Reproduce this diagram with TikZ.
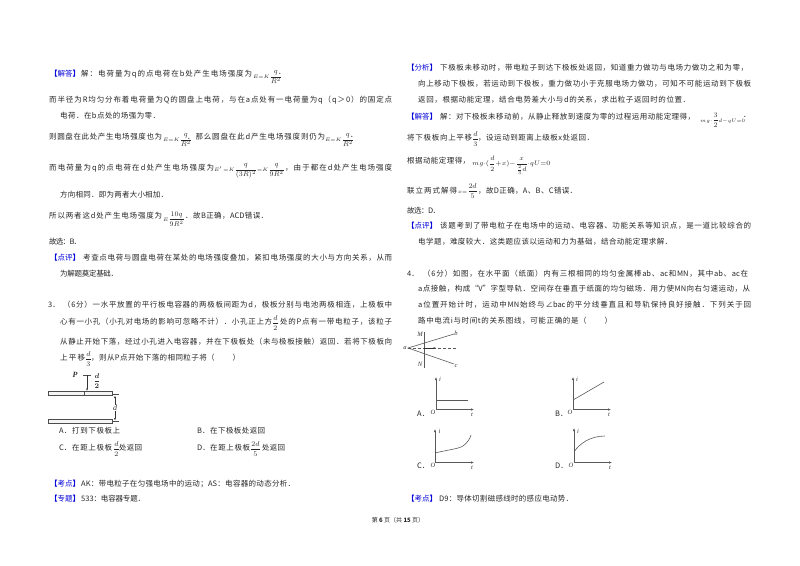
\documentclass[tikz,border=0pt]{standalone}
\usepackage{fix-cm}
\usepackage[no-math]{fontspec}
\usepackage{amsmath}
\setmainfont{Noto Sans CJK SC}
\newfontfamily\labfont{Liberation Serif}
\usetikzlibrary{arrows.meta, positioning, calc}

% even spacing of the Chinese characters inside a row
\XeTeXinterchartokenstate=1
\newXeTeXintercharclass\hanclass
\newcount\hanchar
\hanchar="3000
\loop\XeTeXcharclass\hanchar=\hanclass\ifnum\hanchar<"9FFF\advance\hanchar by 1 \repeat
\hanchar="FF00
\loop\XeTeXcharclass\hanchar=\hanclass\ifnum\hanchar<"FFEF\advance\hanchar by 1 \repeat
\XeTeXinterchartoks\hanclass\hanclass={\hskip 0pt plus 1fil minus 1fil\relax}
\XeTeXinterchartoks\hanclass 0={\hskip 0pt plus 1fil minus 1fil\relax}
\XeTeXinterchartoks 0\hanclass={\hskip 0pt plus 1fil minus 1fil\relax}
\newcommand{\fitrow}[2]{\hbox to #1pt{#2}}
\newcommand{\brk}[1]{\textbf{【}#1\textbf{】}}

\begin{document}
\begin{tikzpicture}[
  x=1pt, y=-1pt,
  row/.style     = {anchor=west, inner sep=0pt, text=black!85, font=\fontsize{7.5}{8}\selectfont},
  tag/.style     = {anchor=west, inner sep=0pt, text=blue!85!black, font=\fontsize{7.5}{8}\selectfont},
  formula/.style = {anchor=west, inner sep=0pt, text=black!85, font=\fontsize{7}{8}\selectfont},
  lab/.style     = {inner sep=0pt, text=black!80, font=\fontsize{6.5}{7}\labfont\itshape},
  axis/.style    = {line width=0.8pt, black!65, -{Latex[length=3pt,width=2.5pt]}},
  curve/.style   = {line width=0.6pt, black!65},
  plate/.style   = {draw=black!70, line width=0.5pt, fill=black!4, minimum height=4pt, inner sep=0pt},
  wire/.style    = {line width=0.5pt, black!70},
  arrow/.style   = {line width=0.5pt, black!80, -{Latex[length=2.5pt,width=2pt]}},
  darrow/.style  = {line width=0.5pt, black!80, {Latex[length=2.5pt,width=2pt]}-{Latex[length=2.5pt,width=2pt]}}
]
\useasboundingbox (0,0) rectangle (800,565);

%--------------------------------------------------
% left column: solution of question 2
%--------------------------------------------------
\node[tag] (tagA) at (50,74) {\fitrow{30}{\brk{解答}}};
\node[row] (a1) at (81,74) {\fitrow{171}{解：电荷量为q的点电荷在b处产生电场强度为}};
\node[formula] (a1f) at (253,77) {${\scriptstyle E{=}K}\dfrac{q}{R^2}$};
\node[row] (a1p) at (278,74) {．};
\node[row] (a2) at (49,100) {\fitrow{343}{而半径为R均匀分布着电荷量为Q的圆盘上电荷，与在a点处有一电荷量为q（q＞0）的固定点}};
\node[row] (a3) at (60,116) {\fitrow{100}{电荷．在b点处的场强为零．}};
\node[row] (a4) at (49,137) {\fitrow{113}{则圆盘在此处产生电场强度也为}};
\node[formula] (a4f) at (163,140) {${\scriptstyle E{=}K}\dfrac{q}{R^2}$};
\node[row] (a4b) at (187,137) {\fitrow{138}{．那么圆盘在此d产生电场强度则仍为}};
\node[formula] (a4g) at (325,140) {${\scriptstyle E{=}K}\dfrac{q}{R^2}$};
\node[row] (a4p) at (350,137) {．};
\node[row] (a5) at (49,168) {\fitrow{165}{而电荷量为q的点电荷在d处产生电场强度为}};
\node[formula] (a5f) at (214,171) {${\scriptstyle E'\,{=}K}\dfrac{q}{(3R)^2}{\scriptstyle {=}K}\dfrac{q}{9R^2}$};
\node[row] (a5b) at (285,168) {\fitrow{107}{，由于都在d处产生电场强度}};
\node[row] (a6) at (60,195) {\fitrow{108}{方向相同．即为两者大小相加．}};
\node[row] (a7) at (49,216) {\fitrow{113}{所以两者这d处产生电场强度为}};
\node[formula] (a7f) at (163,219) {${\scriptstyle E}\dfrac{10q}{9R^2}$};
\node[row] (a7b) at (185,216) {\fitrow{83}{．故B正确，ACD错误．}};
\node[row] (a8) at (49,242) {\fitrow{32}{故选：B．}};
\node[tag] (tagB) at (50,258) {\fitrow{30}{\brk{点评}}};
\node[row] (a9) at (83,258) {\fitrow{309}{考查点电荷与圆盘电荷在某处的电场强度叠加，紧扣电场强度的大小与方向关系，从而}};
\node[row] (a10) at (60,274) {\fitrow{58}{为解题奠定基础．}};

%--------------------------------------------------
% left column: question 3
%--------------------------------------------------
\node[row] (q3) at (48,305) {3．};
\node[row] (q3a) at (63,305) {\fitrow{329}{（6分）一水平放置的平行板电容器的两极板间距为d，极板分别与电池两极相连，上极板中}};
\node[row] (q3b) at (60,322) {\fitrow{212}{心有一小孔（小孔对电场的影响可忽略不计）．小孔正上方}};
\node[formula] (q3f) at (272,323) {$\dfrac{d}{2}$};
\node[row] (q3c) at (280,322) {\fitrow{112}{处的P点有一带电粒子，该粒子}};
\node[row] (q3d) at (60,342) {\fitrow{332}{从静止开始下落，经过小孔进入电容器，并在下极板处（未与极板接触）返回．若将下极板向}};
\node[row] (q3e) at (60,358) {\fitrow{25}{上平移}};
\node[formula] (q3g) at (85,359) {$\dfrac{d}{3}$};
\node[row] (q3h) at (91,358) {\fitrow{149}{，则从P点开始下落的相同粒子将（\hspace{18pt}）}};

% capacitor
\node[plate, anchor=west, minimum width=64pt] (top) at (48,393) {};
\node[plate, anchor=west, minimum width=64pt] (bot) at (48,421) {};
\coordinate (topEnd) at (119,394);
\coordinate (botEnd) at (119,421);
\draw[wire] (top.east |- topEnd) -- (topEnd);
\draw[wire] (bot.east |- botEnd) -- (botEnd);
\draw[wire] (84,391) -- (84,395);
\coordinate (pTick) at (87,375);
\draw[wire] ($(pTick)+(-4,0)$) -- ($(pTick)+(4,0)$);
\draw[arrow] (pTick) -- (87,391);
\draw[darrow] (115,395.5) -- (115,420.5);
\node[lab, font=\fontsize{8}{8}\labfont\itshape\bfseries] (P) at (75,375) {P};
\node[lab, font=\fontsize{7}{8}\selectfont] (halfD) at (97,381) {$\boldsymbol{\dfrac{d}{2}}$};
\node[lab, font=\fontsize{8}{8}\labfont\itshape, fill=white] (dist) at (115,408) {d};

% choices
\node[row] (ca) at (59,431) {A．};
\node[row] (cat) at (72,431) {\fitrow{48}{打到下极板上}};
\node[row] (cb) at (197,431) {B．};
\node[row] (cbt) at (210,431) {\fitrow{55}{在下极板处返回}};
\node[row] (cc) at (59,448) {C．};
\node[row] (cct) at (72,448) {\fitrow{40}{在距上极板}};
\node[formula] (ccf) at (113,449) {$\dfrac{d}{2}$};
\node[row] (ccu) at (119,448) {\fitrow{23}{处返回}};
\node[row] (cd) at (197,448) {D．};
\node[row] (cdt) at (210,448) {\fitrow{40}{在距上极板}};
\node[formula] (cdf) at (250,449) {$\dfrac{2d}{5}$};
\node[row] (cdu) at (262,448) {\fitrow{23}{处返回}};

\node[tag] (tagC) at (50,484) {\fitrow{30}{\brk{考点}}};
\node[row] (k1) at (81,484) {\fitrow{214}{AK：带电粒子在匀强电场中的运动；AS：电容器的动态分析．}};
\node[tag] (tagD) at (50,499) {\fitrow{30}{\brk{专题}}};
\node[row] (k2) at (81,499) {\fitrow{64}{533：电容器专题．}};

%--------------------------------------------------
% right column: solution of question 3
%--------------------------------------------------
\node[tag] (tagE) at (407,68) {\fitrow{30}{\brk{分析}}};
\node[row] (b1) at (440,68) {\fitrow{308}{下极板未移动时，带电粒子到达下极板处返回，知道重力做功与电场力做功之和为零，}};
\node[row] (b2) at (418,84) {\fitrow{333}{向上移动下极板，若运动到下极板，重力做功小于克服电场力做功，可知不可能运动到下极板}};
\node[row] (b3) at (418,100) {\fitrow{272}{返回，根据动能定理，结合电势差大小与d的关系，求出粒子返回时的位置．}};
\node[tag] (tagF) at (407,117) {\fitrow{30}{\brk{解答}}};
\node[row] (b4) at (440,117) {\fitrow{255}{解：对下极板未移动前，从静止释放到速度为零的过程运用动能定理得，}};
\node[formula] (b4f) at (700,120) {${\scriptstyle mg{\cdot}}\dfrac{3}{2}{\scriptstyle d{-}qU{=}0}$};
\node[row] (b4p) at (743,117) {．};
\node[row] (b5) at (407,138) {\fitrow{65}{将下极板向上平移}};
\node[formula] (b5f) at (472,139) {$\dfrac{d}{3}$};
\node[row] (b5b) at (478,138) {\fitrow{116}{，设运动到距离上级板x处返回．}};
\node[row] (b6) at (407,161) {\fitrow{63}{根据动能定理得，}};
\node[formula, font=\fontsize{6.5}{8}\selectfont] (b6f) at (472,165) {$mg{\cdot}(\dfrac{d}{2}{+}x){-}\dfrac{x}{\frac{2}{3}d}{\cdot}qU{=}0$};
\node[row] (b7) at (407,191) {\fitrow{50}{联立两式解得}};
\node[formula] (b7f) at (458,191) {${\scriptstyle x{=}}\dfrac{2d}{5}$};
\node[row] (b7b) at (478,191) {\fitrow{99}{，故D正确，A、B、C错误．}};
\node[row] (b8) at (407,211) {\fitrow{33}{故选：D．}};
\node[tag] (tagG) at (407,226) {\fitrow{30}{\brk{点评}}};
\node[row] (b9) at (440,226) {\fitrow{311}{该题考到了带电粒子在电场中的运动、电容器、功能关系等知识点，是一道比较综合的}};
\node[row] (b10) at (418,242) {\fitrow{254}{电学题，难度较大．这类题应该以运动和力为基础，结合动能定理求解．}};

%--------------------------------------------------
% right column: question 4
%--------------------------------------------------
\node[row] (q4) at (407,274) {4．};
\node[row] (q4a) at (423,274) {\fitrow{325}{（6分）如图，在水平面（纸面）内有三根相同的均匀金属棒ab、ac和MN，其中ab、ac在}};
\node[row] (q4b) at (418,289) {\fitrow{332}{a点接触，构成“V”字型导轨．空间存在垂直于纸面的均匀磁场．用力使MN向右匀速运动，从}};
\node[row] (q4c) at (418,305) {\fitrow{333}{a位置开始计时，运动中MN始终与∠bac的平分线垂直且和导轨保持良好接触．下列关于回}};
\node[row] (q4d) at (418,321) {\fitrow{194}{路中电流i与时间t的关系图线，可能正确的是（\hspace{18pt}）}};

% rails and bar
\coordinate (railA) at (408,348);
\coordinate (railB) at (454,334);
\coordinate (railC) at (454,364);
\draw[curve] (railB) -- (railA) -- (railC);
\draw[curve, densely dashed] (railA) -- (457,348);
\draw[curve, line width=0.8pt] (424,332) -- (424,368);
\draw[arrow, line width=0.8pt] (424,348) -- (436,348);
\node[lab] (labM) at (420,334) {M};
\node[lab] (labN) at (420,364) {N};
\node[lab] (labB) at (456,333) {b};
\node[lab] (labC) at (456,366) {c};
\node[lab] (labA) at (405,348) {a};

%--------------------------------------------------
% the four graphs
%--------------------------------------------------
% A
\draw[axis] (436,409.5) -- (436,377);
\draw[axis] (436,409.5) -- (474,409.5);
\draw[curve] (436,400) -- (468,400);
\node[lab] (iA) at (440,379) {i};
\node[lab] (oA) at (433,412.5) {O};
\node[lab] (tA) at (472,414.5) {t};
\node[row] (gA) at (417,414) {A．};
% B
\draw[axis] (573,409.5) -- (573,377);
\draw[axis] (573,409.5) -- (611,409.5);
\draw[curve] (573,400) -- (604,382);
\node[lab] (iB) at (577,379) {i};
\node[lab] (oB) at (570,412.5) {O};
\node[lab] (tB) at (609,414.5) {t};
\node[row] (gB) at (555,414) {B．};
% C
\draw[axis] (435,462.5) -- (435,429);
\draw[axis] (435,462.5) -- (474,462.5);
\draw[curve] (435,453) .. controls (447,450) and (458,449) .. (463,446) .. controls (467,443) and (470,439) .. (471,435);
\node[lab] (iC) at (439.5,431.5) {i};
\node[lab] (oC) at (433,465.5) {O};
\node[lab] (tC) at (472,467.5) {t};
\node[row] (gC) at (417,466) {C．};
% D
\draw[axis] (574,462.5) -- (574,428);
\draw[axis] (574,462.5) -- (612,462.5);
\draw[curve] (574,452) .. controls (579,444) and (590,436) .. (605,436);
\node[lab] (iD) at (578,431) {i};
\node[lab] (oD) at (571,465.5) {O};
\node[lab] (tD) at (610,467.5) {t};
\node[row] (gD) at (555,466) {D．};

\node[tag] (tagH) at (407,499) {\fitrow{30}{\brk{考点}}};
\node[row] (k3) at (439,499) {\fitrow{134}{D9：导体切割磁感线时的感应电动势．}};

% page number
\node[row, anchor=center, text=black!85, font=\fontsize{6}{7}\selectfont] (pageNo) at (398,520) {第 \textbf{6} 页（共 \textbf{15} 页）};

\end{tikzpicture}
\end{document}
